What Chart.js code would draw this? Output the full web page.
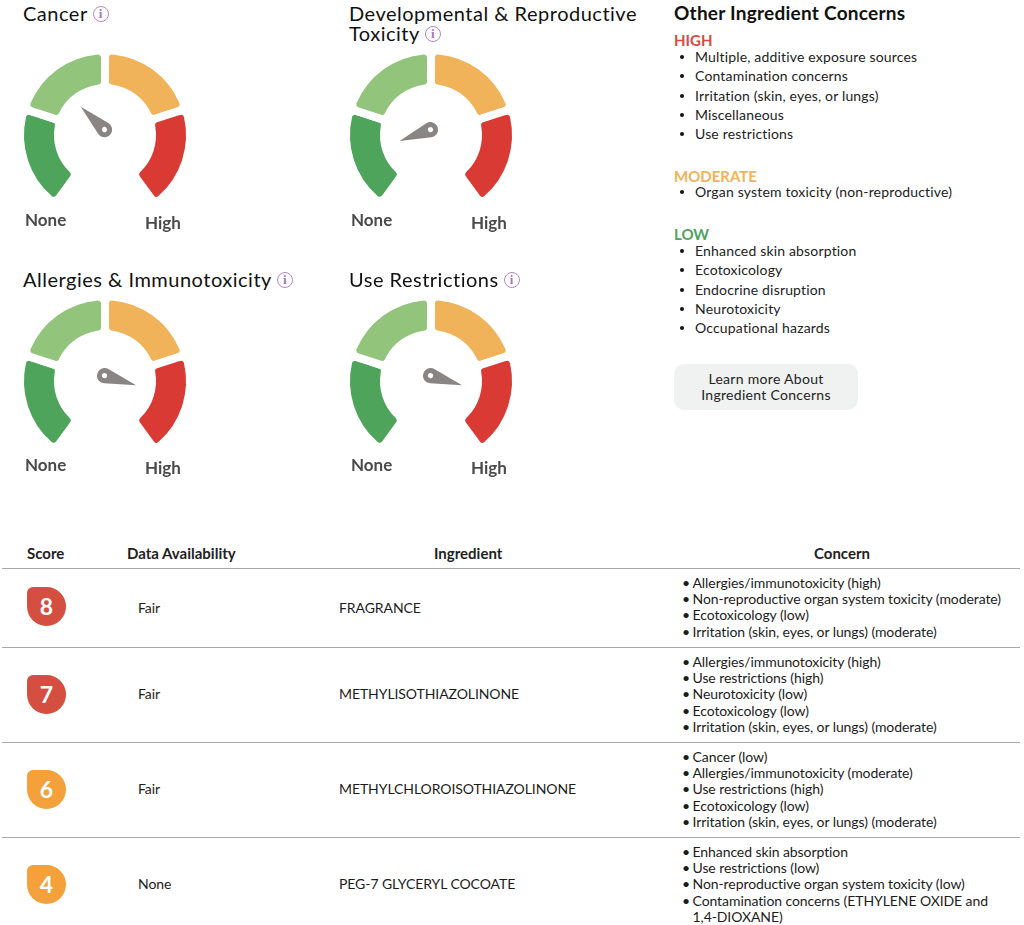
<!DOCTYPE html>
<html><head><meta charset="utf-8">
<script src="https://cdn.jsdelivr.net/npm/chart.js@4"></script>
<style>
html,body{margin:0;padding:0;background:#fff;}
body{width:1024px;height:925px;position:relative;overflow:hidden;font-family:Lato,"Open Sans",sans-serif;color:#1c1c1c;}
.t{position:absolute;white-space:nowrap;}
.title{font-size:20px;line-height:20px;letter-spacing:.5px;color:#111;}
.info{display:inline-block;width:14px;height:14px;border:1.5px solid #b388c9;border-radius:50%;color:#a874c0;font:bold 13px/14px "Liberation Serif",serif;text-align:center;vertical-align:3px;margin-left:5px;letter-spacing:0;}
.gauge{position:absolute;width:200px;height:200px;}
.scale{font-size:17px;font-weight:700;color:#4a4a4a;line-height:20px;}
.side{font-size:14px;line-height:19.4px;color:#222;letter-spacing:.17px;}
.lvl{font-size:15px;font-weight:700;line-height:16px;}
.dot{position:absolute;width:4px;height:4px;border-radius:50%;background:#111;}
.rule{position:absolute;left:2px;width:1018px;height:1px;background:#a8a8a8;}
.th{font-size:15px;font-weight:700;line-height:16px;color:#222;}
.td{font-size:14px;line-height:16px;color:#1c1c1c;letter-spacing:-.08px;}
.badge{position:absolute;left:27px;width:39px;height:39px;border-radius:6px 50% 50% 50%;color:#fff;font-weight:700;font-size:23px;line-height:39px;text-align:center;}
.btn{position:absolute;left:674px;top:364px;width:184px;height:46px;background:#f0f2f1;border-radius:10px;font-size:14px;line-height:16px;text-align:center;color:#222;letter-spacing:.3px;}
.btn div{padding-top:7px;}
</style></head><body>
<script>
// ---------- data ----------
const gaugeTitles = [["Cancer"],["Developmental & Reproductive","Toxicity"],["Allergies & Immunotoxicity"],["Use Restrictions"]];
const bandLabels = ["None","Low","Moderate","High"];
const bandSpans = [1,1,1,1];
const bandColors = ["#4fa45c","#92c47c","#f0b35a","#d93a33"];
const needleAngles = [-46,-110,107,107];
const highList = ["Multiple, additive exposure sources","Contamination concerns","Irritation (skin, eyes, or lungs)","Miscellaneous","Use restrictions"];
const moderateList = ["Organ system toxicity (non-reproductive)"];
const lowList = ["Enhanced skin absorption","Ecotoxicology","Endocrine disruption","Neurotoxicity","Occupational hazards"];
const tableHeads = ["Score","Data Availability","Ingredient","Concern"];
const scores = [8,7,6,4];
const availability = ["Fair","Fair","Fair","None"];
const ingredients = ["FRAGRANCE","METHYLISOTHIAZOLINONE","METHYLCHLOROISOTHIAZOLINONE","PEG-7 GLYCERYL COCOATE"];
const concerns = [
 ["Allergies/immunotoxicity (high)","Non-reproductive organ system toxicity (moderate)","Ecotoxicology (low)","Irritation (skin, eyes, or lungs) (moderate)"],
 ["Allergies/immunotoxicity (high)","Use restrictions (high)","Neurotoxicity (low)","Ecotoxicology (low)","Irritation (skin, eyes, or lungs) (moderate)"],
 ["Cancer (low)","Allergies/immunotoxicity (moderate)","Use restrictions (high)","Ecotoxicology (low)","Irritation (skin, eyes, or lungs) (moderate)"],
 ["Enhanced skin absorption","Use restrictions (low)","Non-reproductive organ system toxicity (low)","Contamination concerns (ETHYLENE OXIDE and","1,4-DIOXANE)"]
];

// ---------- layout ----------
const gaugeCentres = [[105,135],[431,135],[105,381],[431,381]];
const titleSpots = [[23,3],[349,3],[23,269],[349,269]];
const scaleShift = [75,75,74,74];
const badgeTops = [587,675,770,865];
const rowMids = [608,694,789,884];
const concernTops = [575,654,749,844];
const ruleTops = [568,647,742,837];

function el(cls,html,x,y,parent){
  const d=document.createElement('div');d.className=cls;d.innerHTML=html;
  if(x!=null){d.style.left=x+'px';d.style.top=y+'px';}
  (parent||document.body).appendChild(d);return d;
}
const esc=s=>s.replace(/&/g,'&amp;');

const needlePlugin={
  id:'needle',
  afterDatasetsDraw(chart,args,o){
    const a=chart.getDatasetMeta(0).data[0];
    const ctx=chart.ctx,L=33,r=7.6,b=Math.acos(r/L);
    ctx.save();
    ctx.translate(a.x-0.5,a.y-5.5);
    ctx.rotate(o.angle*Math.PI/180);
    ctx.fillStyle='#8a8583';
    ctx.beginPath();
    ctx.arc(0,0,r,-Math.PI/2+b,-Math.PI/2-b+2*Math.PI);
    ctx.lineTo(0,-L);
    ctx.closePath();
    ctx.fill();
    ctx.fillStyle='#fff';
    ctx.beginPath();ctx.arc(0,0,2.6,0,2*Math.PI);ctx.fill();
    ctx.restore();
  }
};

gaugeTitles.forEach((lines,i)=>{
  const html=lines.map(esc).join('<br>')+'<span class="info">i</span>';
  el('t title',html,titleSpots[i][0],titleSpots[i][1]);
  const [cx,cy]=gaugeCentres[i];
  const box=el('gauge','',cx-100,cy-108.1);
  const c=document.createElement('canvas');c.width=200;c.height=200;c.style.width='200px';c.style.height='200px';box.appendChild(c);
  new Chart(c,{
    type:'doughnut',
    data:{labels:bandLabels,datasets:[{data:bandSpans,backgroundColor:bandColors,borderColor:'#fff',borderWidth:8,borderJoinStyle:'round',borderRadius:7}]},
    options:{responsive:false,animation:false,rotation:-144,circumference:288,radius:85,cutout:'55.3%',
      layout:{padding:0},
      plugins:{legend:{display:false},tooltip:{enabled:false},needle:{angle:needleAngles[i]}}},
    plugins:[needlePlugin]
  });
  el('t scale',bandLabels[0],cx-80,cy+scaleShift[i]);
  el('t scale',bandLabels[3],cx+40,cy+scaleShift[i]+3);
});

// side panel
el('t','Other Ingredient Concerns',674,3).style.cssText+='font-size:19px;font-weight:700;line-height:19px;color:#111;letter-spacing:.25px;';
function sideList(label,color,items,headTop,itemTop){
  const h=el('t lvl',label,674,headTop);h.style.color=color;
  items.forEach((s,i)=>{
    const y=itemTop+i*19.35;
    el('t side',s,695,y-10);
    el('dot','',679.5,y-2);
  });
}
sideList('HIGH','#d8493f',highList,32,57);
sideList('MODERATE','#f0b35a',moderateList,168,192);
sideList('LOW','#4fa45c',lowList,226,251);
el('btn','<div>Learn more About<br>Ingredient Concerns</div>');

// table
const headX=[27,127,434,814];
tableHeads.forEach((h,i)=>el('t th',h,headX[i],545));
ruleTops.forEach(y=>{const r=el('rule','');r.style.top=y+'px';});
scores.forEach((s,i)=>{
  const b=el('badge',String(s));b.style.top=badgeTops[i]+'px';b.style.background=s>=7?'#d44f3f':'#f4a13c';
  el('t td',availability[i],138,rowMids[i]-8);
  el('t td',ingredients[i],339,rowMids[i]-8);
  concerns[i].forEach((line,j)=>{
    const y=concernTops[i]+j*16.2;
    const cont=i===3&&j===4;
    if(!cont) el('t td','•',682,y);
    el('t td',line,692.5,y);
  });
});
</script>
</body></html>
